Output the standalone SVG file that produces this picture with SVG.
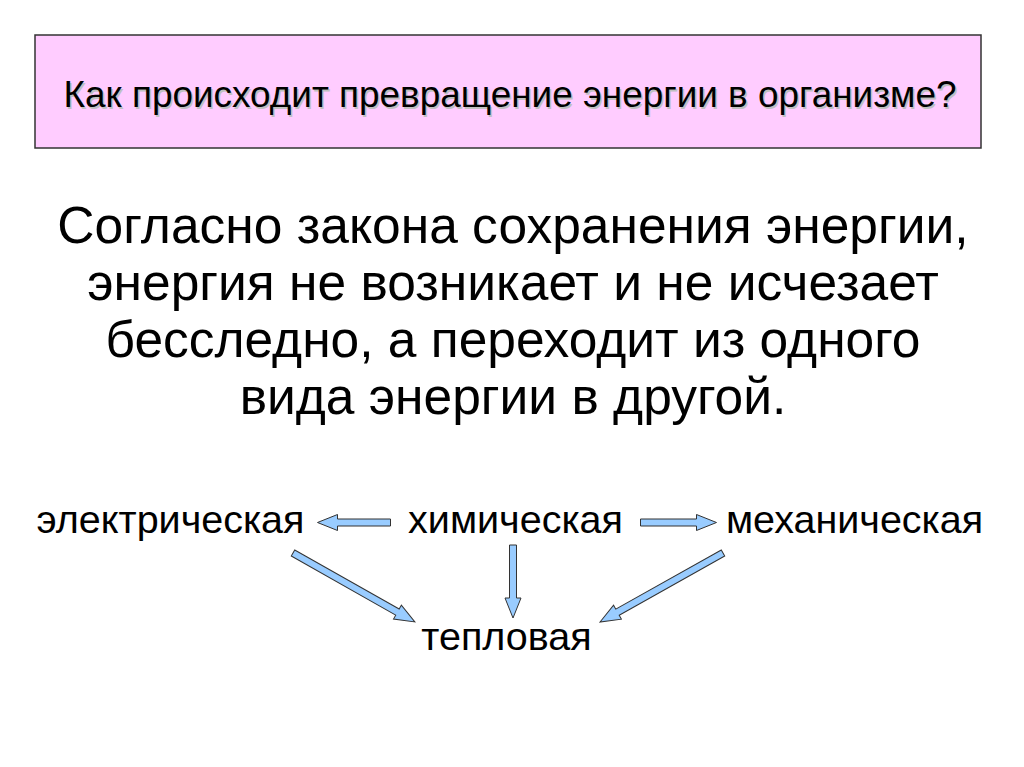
<svg xmlns="http://www.w3.org/2000/svg" width="1024" height="767" viewBox="0 0 1024 767">
<defs>
<style>
.t{font-family:"Liberation Sans",Arial,sans-serif;fill:#000}
.lbl{font-size:39.5px;text-anchor:middle}
.arr{fill:#99CCFF;stroke:#333;stroke-width:1;stroke-linejoin:miter}
</style>
</defs>
<rect width="1024" height="767" fill="#fff"/>
<g id="title">
<rect x="35" y="35" width="946" height="113" fill="#FFCCFF" stroke="#333" stroke-width="1.5"/>
<text class="t" x="510" y="107" font-size="36" text-anchor="middle" textLength="893" lengthAdjust="spacingAndGlyphs" transform="translate(1.5,1.5)" style="fill:#c0c0c0">Как происходит превращение энергии в организме?</text>
<text class="t" x="510" y="107" font-size="36" text-anchor="middle" textLength="893" lengthAdjust="spacingAndGlyphs">Как происходит превращение энергии в организме?</text>
</g>
<g id="body" font-size="51.5" text-anchor="middle">
<text class="t" x="513" y="243">Согласно закона сохранения энергии,</text>
<text class="t" x="513" y="300">энергия не возникает и не исчезает</text>
<text class="t" x="513" y="357">бесследно, а переходит из одного</text>
<text class="t" x="513" y="414">вида энергии в другой.</text>
</g>
<g id="electric"><text class="t lbl" x="170.5" y="533">электрическая</text></g>
<g id="chemical"><text class="t lbl" x="515.5" y="533">химическая</text></g>
<g id="mechanical"><text class="t lbl" x="854.5" y="533">механическая</text></g>
<g id="thermal"><text class="t lbl" x="506.5" y="650">тепловая</text></g>
<g id="connectors">
<path class="arr" transform="translate(390.5,522.5) rotate(180)" d="M0,-3.5 L53,-3.5 L53,-8 L73,0 L53,8 L53,3.5 L0,3.5 Z"/>
<path class="arr" transform="translate(640.5,522.5)" d="M0,-3.5 L56,-3.5 L56,-8 L76,0 L56,8 L56,3.5 L0,3.5 Z"/>
<path class="arr" transform="translate(293,553) rotate(29.5)" d="M0,-3.5 L120,-3.5 L120,-8 L140,0 L120,8 L120,3.5 L0,3.5 Z"/>
<path class="arr" transform="translate(513,545) rotate(90)" d="M0,-3.5 L53,-3.5 L53,-8 L73,0 L53,8 L53,3.5 L0,3.5 Z"/>
<path class="arr" transform="translate(723,553) rotate(150.7)" d="M0,-3.5 L121,-3.5 L121,-8 L141,0 L121,8 L121,3.5 L0,3.5 Z"/>
</g>
</svg>
